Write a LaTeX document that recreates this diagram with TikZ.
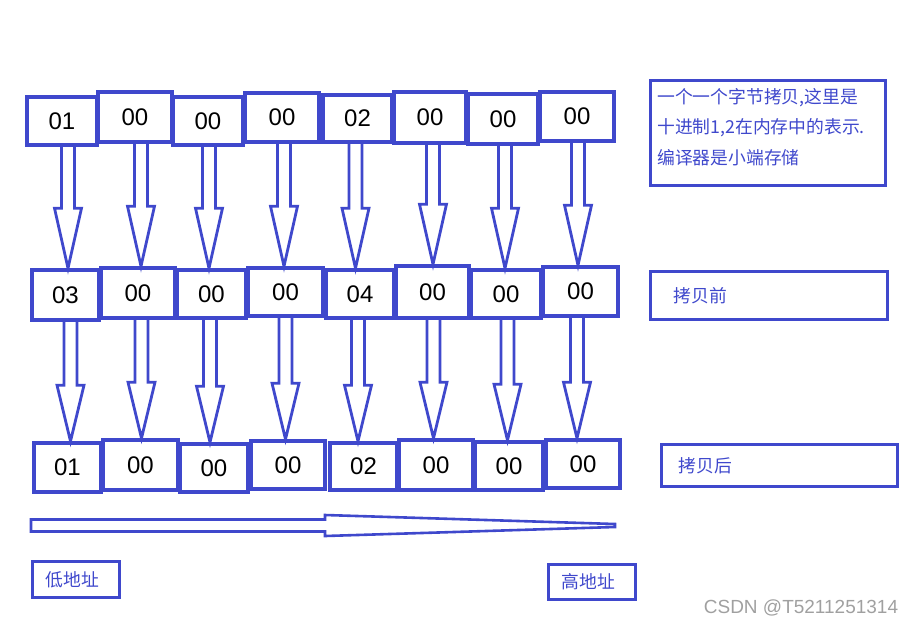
\documentclass[tikz,border=0pt]{standalone}
\usepackage{fontspec}
\setmainfont{Liberation Sans}
\newfontfamily\cjk{Noto Sans CJK SC}
\usetikzlibrary{calc}
\definecolor{ink}{HTML}{3F48CC}
\definecolor{mark}{HTML}{A0A0A0}
\tikzset{
  cell/.style={draw=ink, line width=3.6pt, inner sep=0pt, text=black,
    font=\fontsize{24}{24}\selectfont},
  harrow/.style={draw=ink, line width=2.8pt, line join=miter},
  lbox/.style={draw=ink, line width=3pt, inner ysep=0pt, text=ink,
    font=\cjk\fontsize{17.8}{17.8}\selectfont, align=left},
  itext/.style={text=ink, inner sep=0pt, anchor=base west,
    font=\cjk\fontsize{17.8}{17.8}\selectfont},
}
\newcommand\mycell[6]{\node[cell, minimum width={#4-#2}, minimum height={#5-#3}]
  (#1) at ({(#2+#4)/2},{(#3+#5)/2}) {\raisebox{-3pt}{#6}};}
\begin{document}
\begin{tikzpicture}[x=1pt,y=-1pt]
\useasboundingbox (0,0) rectangle (915,625);
% row 1
\mycell{a1}{27}{97}{97}{145}{01}
\mycell{a2}{98}{92}{172}{142}{00}
\mycell{a3}{173}{97}{243}{145}{00}
\mycell{a4}{245}{93}{319}{142}{00}
\mycell{a5}{323}{95}{392}{142}{02}
\mycell{a6}{394}{92}{466}{143}{00}
\mycell{a7}{468}{94}{538}{144}{00}
\mycell{a8}{540}{92}{614}{141}{00}
% row 2
\mycell{b1}{32}{270}{99}{320}{03}
\mycell{b2}{101}{268}{175}{318}{00}
\mycell{b3}{177}{270}{246}{318}{00}
\mycell{b4}{248}{268}{323}{316}{00}
\mycell{b5}{326}{270}{394}{318}{04}
\mycell{b6}{396}{266}{469}{318}{00}
\mycell{b7}{471}{270}{541}{318}{00}
\mycell{b8}{543}{267}{618}{316}{00}
% row 3
\mycell{c1}{34}{443}{101}{492}{01}
\mycell{c2}{103}{440}{178}{490}{00}
\mycell{c3}{180}{444}{248}{492}{00}
\mycell{c4}{251}{441}{325}{489}{00}
\mycell{c5}{330}{443}{397}{490}{02}
\mycell{c6}{399}{440}{473}{490}{00}
\mycell{c7}{475}{442}{543}{490}{00}
\mycell{c8}{546}{440}{620}{488}{00}
% hollow arrows row1 -> row2
\foreach \i/\d in {1/6,2/6,3/1,4/2,5/-2,6/3,7/2,8/1}{
  \draw[harrow] let \p1=(a\i.south), \p2=(b\i.north) in
    (\x1+\d pt-6.5pt,\y1) -- (\x1+\d pt-6.5pt,\y2+60pt) -- (\x1+\d pt-13.5pt,\y2+60pt)
    -- (\x1+\d pt,\y2) -- (\x1+\d pt+13.5pt,\y2+60pt) -- (\x1+\d pt+6.5pt,\y2+60pt)
    -- (\x1+\d pt+6.5pt,\y1);
}
% hollow arrows row2 -> row3
\foreach \i/\d in {1/5,2/3.5,3/-1.5,4/0,5/-2,6/1,7/1.5,8/-3.5}{
  \draw[harrow] let \p1=(b\i.south), \p2=(c\i.north) in
    (\x1+\d pt-6.5pt,\y1) -- (\x1+\d pt-6.5pt,\y2+56pt) -- (\x1+\d pt-13.5pt,\y2+56pt)
    -- (\x1+\d pt,\y2) -- (\x1+\d pt+13.5pt,\y2+56pt) -- (\x1+\d pt+6.5pt,\y2+56pt)
    -- (\x1+\d pt+6.5pt,\y1);
}
% info box
\node[draw=ink, line width=3pt, minimum width=235, minimum height=105, anchor=north west] (info) at (649,79) {};
\node[itext] (info1) at (657,103) {一个一个字节拷贝,这里是};
\node[itext] (info2) at (657,133.5) {十进制1,2在内存中的表示.};
\node[itext] (info3) at (657,164) {编译器是小端存储};
% labels
\node[lbox, anchor=north west, minimum width=237, minimum height=48, text width=191, inner xsep=23] (before) at (649,270) {\raisebox{-2pt}{拷贝前}};
\node[lbox, anchor=north west, minimum width=236, minimum height=42, text width=202, inner xsep=17] (after) at (660,443) {\raisebox{-5pt}{拷贝后}};
% bottom address arrow
\draw[harrow, line width=2.6pt] (31,519.5) -- (325,519.5) -- (325,515) -- (615,524) -- (615,527)
  -- (325,536) -- (325,531.5) -- (31,531.5) -- cycle;
\node[lbox, anchor=north west, minimum width=87, minimum height=36, text width=61, inner xsep=13] (low) at (31,560) {低地址};
\node[lbox, anchor=north west, minimum width=87, minimum height=35, text width=61, inner xsep=13] (high) at (547,563) {\raisebox{-2pt}{高地址}};
% watermark
\node[text=mark, inner sep=0pt, font=\fontsize{19}{19}\selectfont] (wm) at (801,608) {CSDN @T5211251314};
\end{tikzpicture}
\end{document}
